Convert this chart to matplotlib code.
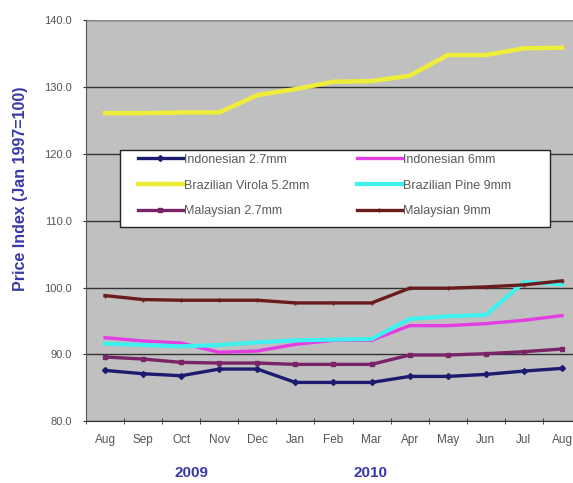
import matplotlib.pyplot as plt
import numpy as np
from matplotlib.patches import Rectangle

months = ["Aug", "Sep", "Oct", "Nov", "Dec", "Jan", "Feb", "Mar",
          "Apr", "May", "Jun", "Jul", "Aug"]

indonesian_27 = [87.6, 87.1, 86.8, 87.8, 87.8, 85.8, 85.8, 85.8,
                 86.7, 86.7, 87.0, 87.5, 87.9]
indonesian_6 = [92.5, 92.0, 91.7, 90.3, 90.5, 91.5, 92.1, 92.1,
                94.3, 94.3, 94.6, 95.1, 95.8]
brazilian_virola = [126.1, 126.1, 126.2, 126.2, 128.8, 129.7, 130.8, 130.9,
                    131.7, 134.8, 134.8, 135.8, 135.9]
brazilian_pine = [91.6, 91.4, 91.2, 91.4, 91.8, 92.1, 92.2, 92.3,
                  95.3, 95.7, 95.9, 100.8, 100.5]
malaysian_27 = [89.6, 89.3, 88.8, 88.7, 88.7, 88.5, 88.5, 88.5,
                89.9, 89.9, 90.1, 90.4, 90.8]
malaysian_9 = [98.8, 98.2, 98.1, 98.1, 98.1, 97.7, 97.7, 97.7,
               99.9, 99.9, 100.1, 100.4, 101.0]

series = [
    ("Indonesian 2.7mm", indonesian_27, "#1c1c6e", "D", 2.4),
    ("Indonesian 6mm", indonesian_6, "#e23ee2", None, 2.4),
    ("Brazilian Virola 5.2mm", brazilian_virola, "#eeee3a", None, 3.2),
    ("Brazilian Pine 9mm", brazilian_pine, "#3ef0ee", None, 3.0),
    ("Malaysian 2.7mm", malaysian_27, "#7a2468", "s", 2.4),
    ("Malaysian 9mm", malaysian_9, "#6a1c1c", "+", 2.4),
]

plt.rcParams["font.family"] = ["Liberation Sans", "DejaVu Sans"]

fig = plt.figure(figsize=(5.73, 4.83), dpi=100)
ax = fig.add_axes([0.150, 0.128, 0.864, 0.830])
ax.set_facecolor("#c0c0c0")

x = np.arange(len(months))
lines = {}
for label, vals, color, marker, lw in series:
    ln, = ax.plot(x, vals, color=color, lw=lw, marker=marker, markersize=3,
                  markeredgewidth=1, label=label, zorder=3)
    lines[label] = ln

ax.set_xlim(-0.5, len(months) - 0.5)
ax.set_ylim(80, 140)
ax.set_yticks(np.arange(80, 141, 10))
ax.set_yticklabels(["%.1f" % v for v in np.arange(80, 141, 10)],
                   fontsize=8, color="#555555")
ax.set_xticks(x)
ax.set_xticklabels(months, fontsize=8.5, color="#555555")
ax.set_xticks(np.arange(-0.5, len(months), 1), minor=True)
ax.tick_params(axis="x", which="major", length=0, pad=9)
ax.tick_params(axis="x", which="minor", length=4, direction="inout",
               color="#333333")
ax.tick_params(axis="y", length=4, direction="inout", color="#333333", pad=8)

ax.grid(axis="y", color="#333333", lw=1)
ax.set_axisbelow(True)
for side in ["top", "right"]:
    ax.spines[side].set_visible(False)
ax.spines["left"].set_color("#555555")
ax.spines["bottom"].set_color("#333333")
ax.axhline(140, color="#888888", lw=1.5)

fig.text(0.035, 0.609, "Price Index (Jan 1997=100)", fontsize=11.5,
         color="#3838a8", fontweight="bold", rotation=90,
         ha="center", va="center")
fig.text(0.335, 0.012, "2009", fontsize=11, color="#3838a8",
         fontweight="bold", ha="center")
fig.text(0.646, 0.012, "2010", fontsize=11, color="#3838a8",
         fontweight="bold", ha="center")

# legend box drawn by hand, Excel style
ax.add_patch(Rectangle((0.0687, 0.484), 0.868, 0.192, transform=ax.transAxes,
                       facecolor="white", edgecolor="#222222", lw=1,
                       zorder=4))

# legend filled row by row, as in the original
order = ["Indonesian 2.7mm", "Brazilian Virola 5.2mm", "Malaysian 2.7mm",
         "Indonesian 6mm", "Brazilian Pine 9mm", "Malaysian 9mm"]
leg = ax.legend([lines[k] for k in order], order, ncol=2, loc="upper left",
                bbox_to_anchor=(0.105, 0.667), fontsize=9, frameon=False,
                handlelength=3.6, columnspacing=3.8, labelspacing=1.1,
                handletextpad=0.1, borderpad=0, borderaxespad=0)
leg.set_zorder(5)
for t in leg.get_texts():
    t.set_color("#5a5a5a")

fig.savefig("out.png", dpi=100)
